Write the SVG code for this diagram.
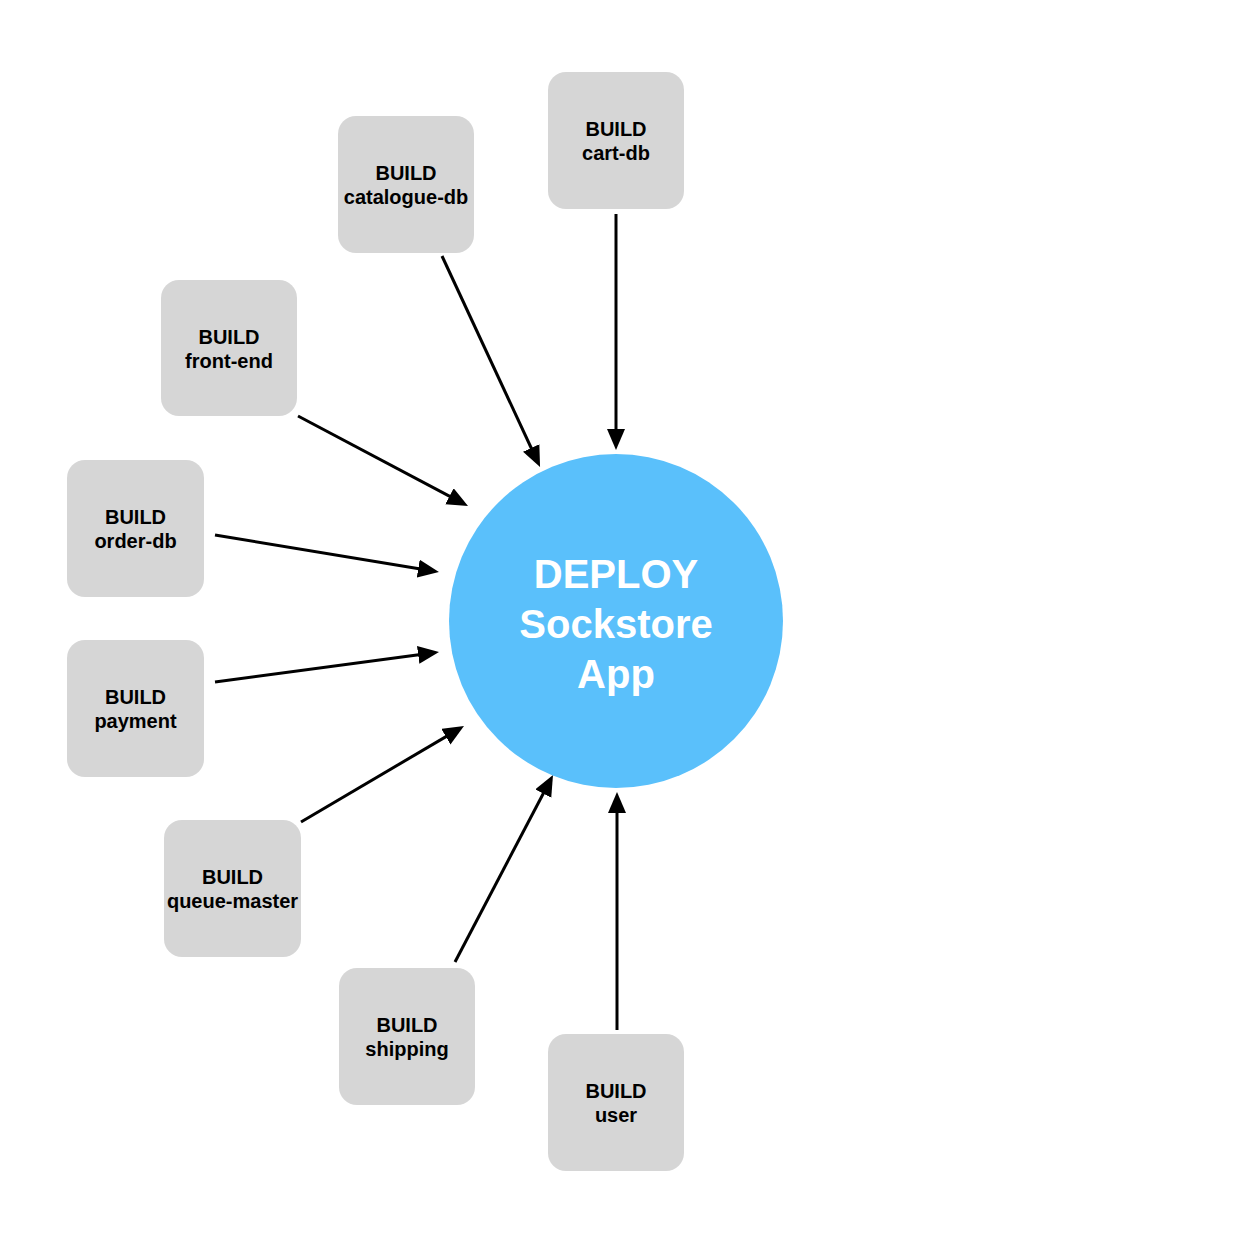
<svg xmlns="http://www.w3.org/2000/svg" width="1236" height="1236" viewBox="0 0 1236 1236">
<defs>
<style>
.box{fill:#d6d6d6}
.lbl{font-family:"Liberation Sans",Arial,sans-serif;font-weight:bold;font-size:20px;fill:#000;text-anchor:middle}
.big{font-family:"Liberation Sans",Arial,sans-serif;font-weight:bold;font-size:40px;fill:#fff;text-anchor:middle}
.arr{stroke:#000;stroke-width:3;fill:none;marker-end:url(#ah)}
</style>
<marker id="ah" markerUnits="userSpaceOnUse" markerWidth="24" markerHeight="20" refX="10" refY="9" orient="auto">
<path d="M0,0 L21,9 L0,18 z" fill="#000"/>
</marker>
</defs>
<rect width="1236" height="1236" fill="#fff"/>
<g id="connectors">
<line class="arr" x1="616" y1="214" x2="616" y2="439"/>
<line class="arr" x1="442" y1="256" x2="535.4" y2="457"/>
<line class="arr" x1="298" y1="416" x2="458.3" y2="500.9"/>
<line class="arr" x1="215" y1="535" x2="428.1" y2="570.2"/>
<line class="arr" x1="215" y1="682" x2="428.1" y2="653.5"/>
<line class="arr" x1="301" y1="822" x2="454.5" y2="731.6"/>
<line class="arr" x1="455" y1="962" x2="547.9" y2="784.7"/>
<line class="arr" x1="617" y1="1030" x2="617" y2="803"/>
</g>
<g id="deploy">
<circle cx="616" cy="621" r="167" fill="#5ac0fb"/>
<text class="big" x="616" y="588">DEPLOY</text>
<text class="big" x="616" y="638">Sockstore</text>
<text class="big" x="616" y="688">App</text>
</g>
<g id="cart-db">
<rect class="box" x="548" y="72" width="136" height="137" rx="18"/>
<text class="lbl" x="616" y="136">BUILD</text>
<text class="lbl" x="616" y="160">cart-db</text>
</g>
<g id="catalogue-db">
<rect class="box" x="338" y="116" width="136" height="137" rx="18"/>
<text class="lbl" x="406" y="180">BUILD</text>
<text class="lbl" x="406" y="204">catalogue-db</text>
</g>
<g id="front-end">
<rect class="box" x="161" y="280" width="136" height="136" rx="18"/>
<text class="lbl" x="229" y="344">BUILD</text>
<text class="lbl" x="229" y="368">front-end</text>
</g>
<g id="order-db">
<rect class="box" x="67" y="460" width="137" height="137" rx="18"/>
<text class="lbl" x="135.5" y="524">BUILD</text>
<text class="lbl" x="135.5" y="548">order-db</text>
</g>
<g id="payment">
<rect class="box" x="67" y="640" width="137" height="137" rx="18"/>
<text class="lbl" x="135.5" y="704">BUILD</text>
<text class="lbl" x="135.5" y="728">payment</text>
</g>
<g id="queue-master">
<rect class="box" x="164" y="820" width="137" height="137" rx="18"/>
<text class="lbl" x="232.5" y="884">BUILD</text>
<text class="lbl" x="232.5" y="908">queue-master</text>
</g>
<g id="shipping">
<rect class="box" x="339" y="968" width="136" height="137" rx="18"/>
<text class="lbl" x="407" y="1032">BUILD</text>
<text class="lbl" x="407" y="1056">shipping</text>
</g>
<g id="user">
<rect class="box" x="548" y="1034" width="136" height="137" rx="18"/>
<text class="lbl" x="616" y="1098">BUILD</text>
<text class="lbl" x="616" y="1122">user</text>
</g>
</svg>
